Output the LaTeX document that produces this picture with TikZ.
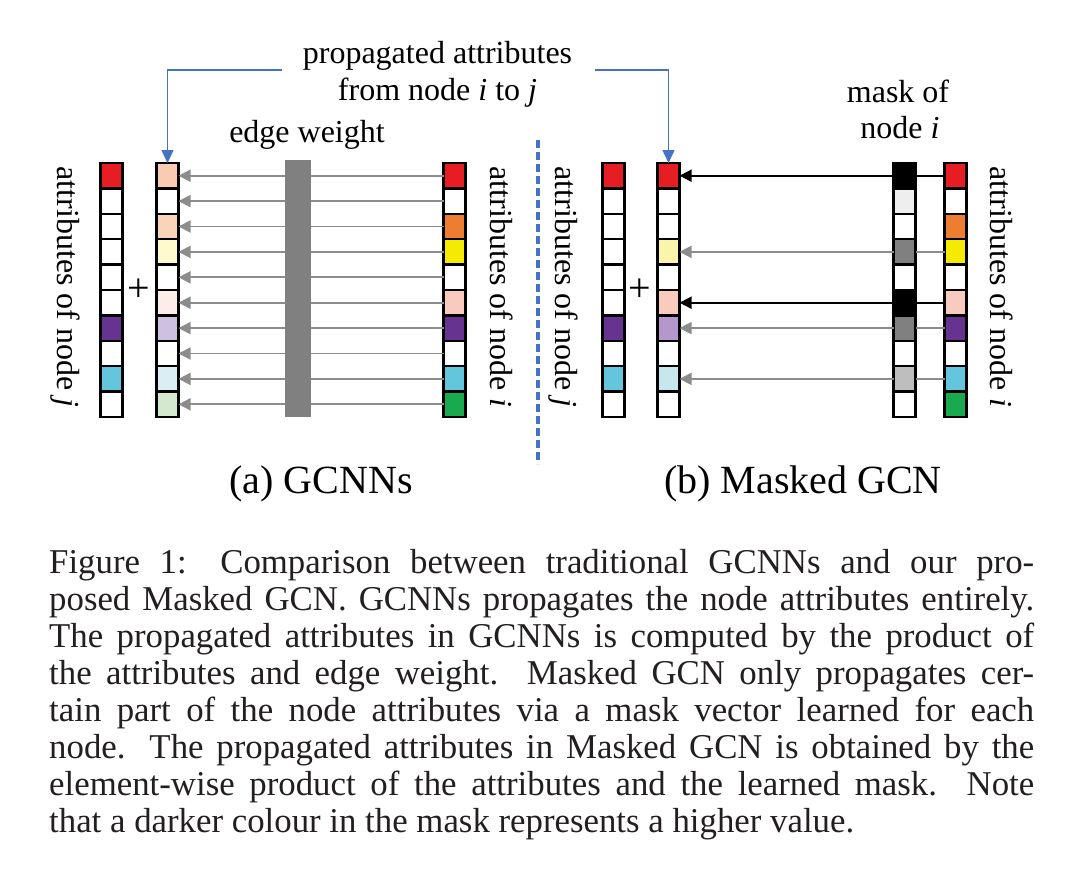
\documentclass[tikz,border=0pt]{standalone}
\usepackage{fontspec}
\setmainfont{Liberation Serif}
\usetikzlibrary{arrows.meta}
\definecolor{cred}{RGB}{230,30,36}
\definecolor{corange}{RGB}{237,125,49}
\definecolor{cyellow}{RGB}{245,235,0}
\definecolor{cpink}{RGB}{248,203,190}
\definecolor{cpurple}{RGB}{102,51,145}
\definecolor{ccyan}{RGB}{100,198,220}
\definecolor{cgreen}{RGB}{25,170,80}
\definecolor{lpeach}{RGB}{248,203,178}
\definecolor{lorange}{RGB}{249,212,184}
\definecolor{lyellow}{RGB}{255,250,205}
\definecolor{lpink}{RGB}{253,237,232}
\definecolor{llav}{RGB}{205,192,224}
\definecolor{lblue}{RGB}{218,238,243}
\definecolor{lgreen}{RGB}{212,232,208}
\definecolor{myellow}{RGB}{250,245,170}
\definecolor{mlav}{RGB}{180,152,205}
\definecolor{mblue}{RGB}{200,230,238}
\definecolor{g1}{RGB}{238,238,238}
\definecolor{g2}{RGB}{128,128,128}
\definecolor{g3}{RGB}{190,190,190}
\definecolor{barg}{RGB}{128,128,128}
\definecolor{arrg}{RGB}{140,140,140}
\definecolor{oblue}{RGB}{68,114,196}
\definecolor{captxt}{RGB}{35,31,32}
\newcommand\mkcolumn[3]{%
  \foreach \c [count=\k] in {#3} {\node[cell,fill=\c] (#1\k) at (#2,{163+(\k-0.5)*25.4}) {};}}
\begin{document}
\begin{tikzpicture}[x=1pt,y=-1pt,
  cell/.style={draw=black,line width=2.5pt,minimum width=22pt,minimum height=25.4pt,inner sep=0pt,outer sep=0pt},
  lbl/.style={font=\fontsize{32}{37}\selectfont,inner sep=0pt},
  plussign/.style={font=\fontsize{40}{44}\selectfont,inner sep=0pt},
  ttl/.style={font=\fontsize{40}{46}\selectfont,inner sep=0pt},
  grayarrow/.style={draw=arrg,line width=1.8pt,-{Triangle[length=12pt,width=12pt]}},
  grayline/.style={draw=arrg,line width=1.8pt},
  blkarrow/.style={draw=black,line width=1.8pt,-{Triangle[length=12pt,width=12pt]}},
  blkline/.style={draw=black,line width=1.8pt},
  bluearrow/.style={draw=oblue,line width=1.5pt,-{Triangle[length=13pt,width=12pt]}},
  captext/.style={font=\fontsize{34.8}{37}\selectfont,text=captxt,inner sep=0pt,anchor=base west}]
\useasboundingbox (0,0) rectangle (1080,879);
\fill[white] (0,0) rectangle (1080,879);
% (a) GCNNs columns
\mkcolumn{aj}{111.5}{cred,white,white,white,white,white,cpurple,white,ccyan,white}
\mkcolumn{ap}{167.5}{lpeach,white,lorange,lyellow,white,lpink,llav,white,lblue,lgreen}
\mkcolumn{ai}{454.5}{cred,white,corange,cyellow,white,cpink,cpurple,white,ccyan,cgreen}
\foreach \k in {1,...,10} {\draw[grayarrow] (ai\k.west) -- (ap\k.east);}
\node[fill=barg,minimum width=26pt,minimum height=257pt,inner sep=0pt] (ew) at (298,288.5) {};
\node[lbl,anchor=base] (ewl) at (307,142) {edge weight};
\node[plussign] (plusa) at (139,290) {+};
\node[lbl,rotate=-90,anchor=base] (ljA) at (57,287) {attributes of node \textit{j}};
\node[lbl,rotate=-90,anchor=base] (liA) at (490,287) {attributes of node \textit{i}};
\node[ttl,anchor=base] (ta) at (321,493) {(a) GCNNs};
% (b) Masked GCN columns
\mkcolumn{bj}{613.5}{cred,white,white,white,white,white,cpurple,white,ccyan,white}
\mkcolumn{bp}{668.5}{cred,white,white,myellow,white,cpink,mlav,white,mblue,white}
\mkcolumn{bm}{904.5}{black,g1,white,g2,white,black,g2,white,g3,white}
\mkcolumn{bi}{955.5}{cred,white,corange,cyellow,white,cpink,cpurple,white,ccyan,cgreen}
\foreach \k/\s in {1/blk,6/blk,4/gray,7/gray,9/gray} {
  \draw[\s line] (bi\k.west) -- (bm\k.east);
  \draw[\s arrow] (bm\k.west) -- (bp\k.east);}
\node[plussign] (plusb) at (640,290) {+};
\node[lbl,rotate=-90,anchor=base] (ljB) at (555,287) {attributes of node \textit{j}};
\node[lbl,rotate=-90,anchor=base] (liB) at (990,287) {attributes of node \textit{i}};
\node[lbl,anchor=base] (mask1) at (898,102) {mask of};
\node[lbl,anchor=base] (mask2) at (900,138) {node \textit{i}};
\node[ttl,anchor=base] (tb) at (803,493) {(b) Masked GCN};
% top label and blue connectors
\node[lbl,anchor=base] (prop1) at (437.5,63) {propagated attributes};
\node[lbl,anchor=base] (prop2) at (437.5,100) {from node \textit{i} to \textit{j}};
\coordinate (pl) at (282,70);
\coordinate (pr) at (595,70);
\draw[bluearrow] (pl) -| (ap1.north);
\draw[bluearrow] (pr) -| (bp1.north);
% separator
\coordinate (sepT) at (538,140);
\coordinate (sepB) at (538,464);
\draw[oblue,line width=3.5pt,dash pattern=on 8pt off 4pt] (sepT) -- (sepB);
% caption
\node[captext] (c1) at (49,573) {\makebox[985pt][s]{Figure 1:  Comparison between traditional GCNNs and our pro-}};
\node[captext] (c2) at (49,610) {\makebox[985pt][s]{posed Masked GCN. GCNNs propagates the node attributes entirely.}};
\node[captext] (c3) at (49,647) {\makebox[985pt][s]{The propagated attributes in GCNNs is computed by the product of}};
\node[captext] (c4) at (49,684) {\makebox[985pt][s]{the attributes and edge weight.  Masked GCN only propagates cer-}};
\node[captext] (c5) at (49,721) {\makebox[985pt][s]{tain part of the node attributes via a mask vector learned for each}};
\node[captext] (c6) at (49,758) {\makebox[985pt][s]{node. The propagated attributes in Masked GCN is obtained by the}};
\node[captext] (c7) at (49,795) {\makebox[985pt][s]{element-wise product of the attributes and the learned mask.  Note}};
\node[captext] (c8) at (49,832) {that a darker colour in the mask represents a higher value.};
\end{tikzpicture}
\end{document}
